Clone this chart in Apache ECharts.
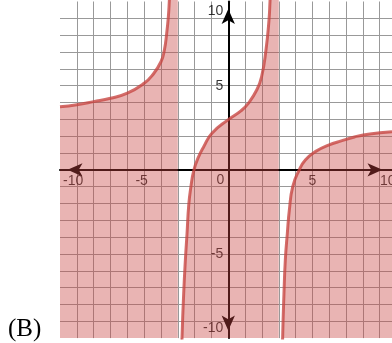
<!DOCTYPE html>
<html>
<head>
<meta charset="utf-8">
<script src="https://cdn.jsdelivr.net/npm/echarts@6/dist/echarts.min.js"></script>
<style>
  html, body { margin: 0; padding: 0; background: #fff; }
  #chart { width: 392px; height: 343px; }
</style>
</head>
<body>
<div id="chart"></div>
<script>
// Three branches of the graphed curve, split at the vertical asymptotes x = -3 and x = 3.
// Values beyond ±10 carry each branch out of the window toward its asymptote,
// so the shaded region y <= f(x) reaches the asymptote.
const leftX  = [-10, -9, -8, -7, -6, -5, -4.5, -4, -3.8, -3.66, -3.56, -3.5, -3.42, -3.3, -3.15, -3.0];
const leftY  = [3.75, 3.87, 4.05, 4.25, 4.55, 5.14, 5.63, 6.42, 7.1, 8.1, 9.1, 10.1, 11.6, 15, 20, 20];

const midX   = [-2.8, -2.75, -2.65, -2.55, -2.45, -2.35, -2.22, -2.04, -1.76, -1.46, -0.97, 0, 0.75, 1.19, 1.69, 1.98, 2.24, 2.42, 2.48, 2.56, 2.75, 3.0];
const midY   = [-12, -10, -7.34, -5.36, -3.77, -2.1, -1.0, 0, 0.78, 1.37, 2.17, 2.98, 3.5, 3.95, 4.74, 5.53, 7.12, 8.9, 10, 11.6, 20, 20];

const rightX = [3.2, 3.23, 3.31, 3.39, 3.51, 3.63, 3.83, 4.22, 4.58, 5.17, 5.96, 6.76, 7.5, 8.02, 9.01, 9.73];
const rightY = [-12, -10, -7.34, -5.36, -3.77, -2.39, -1.0, 0, 0.58, 1.08, 1.47, 1.73, 1.95, 2.07, 2.2, 2.26];

// Axis numbering
const xTicks = [-10, -5, 5, 10];
const yTicks = [-10, -5, 5, 10];
const originText = '0';
const panelText = '(B)';

const CURVE = '#c74440';
const LABEL_FONT = { fontFamily: '"Liberation Sans", Arial, sans-serif', fontSize: 14, color: '#000' };

function zip(xs, ys) { return xs.map((x, i) => [x, ys[i]]); }

function branch(xs, ys) {
  return {
    type: 'line',
    data: zip(xs, ys),
    symbol: 'none',
    showSymbol: false,
    smooth: 0.5,
    clip: true,
    silent: true,
    z: 3,
    lineStyle: { color: CURVE, width: 3, opacity: 0.78 },
    areaStyle: { color: CURVE, opacity: 0.4, origin: 'start' }
  };
}

// Tick numbers placed through the cartesian scales; end values are nudged inside the window.
function xLabelItem(v) {
  const lbl = { align: 'center', offset: [0, 11.5] };
  if (v === -10) { lbl.align = 'left'; lbl.offset = [3, 11.5]; }
  else if (v === 10) { lbl.align = 'right'; lbl.offset = [-1, 11.5]; }
  else if (v < 0) { lbl.offset = [-2.5, 11.5]; }
  return { name: String(v), value: [v, 0], label: lbl };
}
function yLabelItem(v) {
  const lbl = { align: 'right', offset: [-5, 0] };
  if (v === 10) lbl.offset = [-5, 9.5];
  else if (v === -10) lbl.offset = [-5, -9.5];
  return { name: String(v), value: [0, v], label: lbl };
}

const labelData = xTicks.map(xLabelItem)
  .concat(yTicks.map(yLabelItem))
  .concat([{ name: originText, value: [0, 0], label: { align: 'center', offset: [-8, 10.5] } }]);

const chart = echarts.init(document.getElementById('chart'), null, { renderer: 'canvas' });

chart.setOption({
  animation: false,
  backgroundColor: '#fff',
  grid: { left: 60, right: 0, top: 1.5, bottom: 4.9, containLabel: false },
  xAxis: {
    type: 'value', min: -10, max: 9.73, interval: 1, z: 0,
    axisLabel: { show: false }, axisTick: { show: false },
    axisLine: {
      onZero: true, symbol: ['arrow', 'arrow'], symbolSize: [10, 15], symbolOffset: [7.5, -9.5],
      lineStyle: { color: '#000', width: 2 }
    },
    splitLine: { show: true, showMinLine: false, showMaxLine: false, lineStyle: { color: '#999', width: 1 } }
  },
  yAxis: {
    type: 'value', min: -10, max: 10, interval: 1, z: 0,
    axisLabel: { show: false }, axisTick: { show: false },
    axisLine: {
      onZero: true, symbol: ['arrow', 'arrow'], symbolSize: [10, 15], symbolOffset: [7.5, -7.5],
      lineStyle: { color: '#000', width: 2 }
    },
    splitLine: { show: true, showMinLine: false, showMaxLine: false, lineStyle: { color: '#999', width: 1 } }
  },
  series: [
    branch(leftX, leftY),
    branch(midX, midY),
    branch(rightX, rightY),
    {
      type: 'scatter', symbolSize: 0, clip: false, silent: true, z: 1,
      data: labelData,
      label: Object.assign({ show: true, position: 'inside', formatter: '{b}', verticalAlign: 'middle' }, LABEL_FONT)
    }
  ],
  graphic: [{
    type: 'text', x: 8, y: 329.6, silent: true,
    style: { text: panelText, font: '25px "Liberation Serif", "Times New Roman", serif', fill: '#000', verticalAlign: 'middle' }
  }]
});
</script>
</body>
</html>
